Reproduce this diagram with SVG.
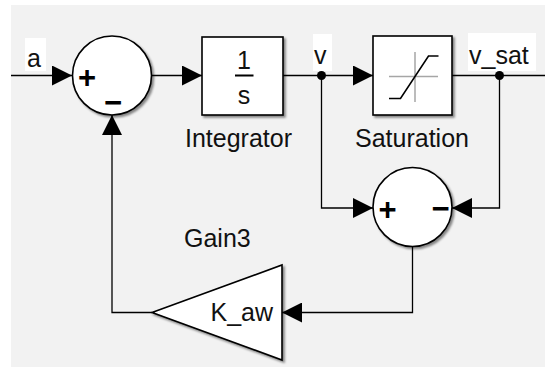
<svg xmlns="http://www.w3.org/2000/svg" width="545" height="367" viewBox="0 0 545 367">
  <defs>
    <marker id="arr" markerUnits="userSpaceOnUse" markerWidth="20" markerHeight="20" refX="20" refY="10" orient="auto">
      <path d="M0,0 L20,10 L0,20 Z" fill="#000"/>
    </marker>
    <filter id="sh" x="-20%" y="-20%" width="140%" height="140%">
      <feDropShadow dx="2" dy="2" stdDeviation="1.2" flood-color="#000" flood-opacity="0.45"/>
    </filter>
    <style>
      .blk { fill: #fff; stroke: #000; stroke-width: 1.6; filter: url(#sh); }
      .wire { fill: none; stroke: #000; stroke-width: 1.3; }
      .arrow { marker-end: url(#arr); }
      .lbl { font-family: "Liberation Sans", Arial, sans-serif; font-size: 25px; fill: #111; }
      .sign { font-family: "Liberation Sans", Arial, sans-serif; font-size: 31px; font-weight: bold; fill: #000; text-anchor: middle; }
      .dot { fill: #000; }
      .lblbg { fill: #fff; }
    </style>
  </defs>

  <rect x="0" y="0" width="545" height="367" fill="#fff"/>
  <rect x="11" y="5" width="534" height="362" fill="#f2f2f2"/>

  <g id="connectors">
    <path class="wire arrow" d="M11,75.5 H72"/>
    <path class="wire arrow" d="M151.5,75.5 H202"/>
    <path class="wire arrow" d="M283,75.5 H373"/>
    <path class="wire" d="M452,75.5 H545"/>
    <path class="wire arrow" d="M321.5,75.5 V208 H373"/>
    <path class="wire arrow" d="M499.5,75.5 V208 H452"/>
    <path class="wire arrow" d="M412.5,247 V312.5 H282"/>
    <path class="wire arrow" d="M152,312.5 H112 V115"/>
    <circle class="dot" cx="321.5" cy="75.5" r="4.5"/>
    <circle class="dot" cx="499.5" cy="75.5" r="4.5"/>
  </g>

  <g id="label-a">
    <rect class="lblbg" x="25" y="38" width="21" height="33"/>
    <text class="lbl" x="27" y="66.5">a</text>
  </g>
  <g id="label-v">
    <rect class="lblbg" x="313" y="34" width="19" height="37"/>
    <text class="lbl" x="314" y="63.5">v</text>
  </g>
  <g id="label-v_sat">
    <rect class="lblbg" x="468" y="33" width="68" height="38"/>
    <text class="lbl" x="469" y="63.5">v_sat</text>
  </g>

  <g id="sum1">
    <circle class="blk" cx="112" cy="75.5" r="39.5"/>
    <text class="sign" x="87" y="88">+</text>
    <text class="sign" x="113" y="113">−</text>
  </g>

  <g id="integrator">
    <rect class="blk" x="202" y="37" width="81" height="78"/>
    <text class="lbl" x="244" y="68.5" text-anchor="middle" font-size="23">1</text>
    <rect x="235" y="74.5" width="18.5" height="2" fill="#000"/>
    <text class="lbl" x="244" y="103.5" text-anchor="middle">s</text>
    <text class="lbl" x="185" y="146.5">Integrator</text>
  </g>

  <g id="saturation">
    <rect class="blk" x="373" y="36" width="79" height="79"/>
    <path d="M389,76.5 H438 M415,52 V102" stroke="#a6a6a6" stroke-width="1.5" fill="none"/>
    <path d="M389,98.5 H400.5 L428.5,56 H438.5" stroke="#000" stroke-width="1.6" fill="none"/>
    <text class="lbl" x="355" y="146.5">Saturation</text>
  </g>

  <g id="sum2">
    <circle class="blk" cx="412.5" cy="207" r="39.5"/>
    <text class="sign" x="387.5" y="219.5">+</text>
    <text class="sign" x="440.5" y="218.5">−</text>
  </g>

  <g id="gain3">
    <polygon class="blk" points="282,265 282,360 152,312.5"/>
    <text class="lbl" x="273" y="320.5" text-anchor="end">K_aw</text>
    <text class="lbl" x="184" y="246.5">Gain3</text>
  </g>
</svg>
